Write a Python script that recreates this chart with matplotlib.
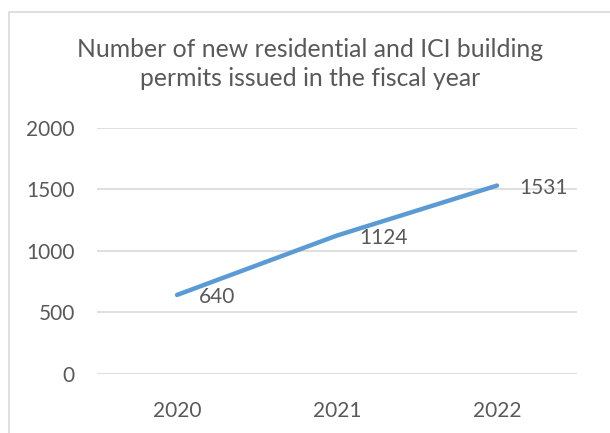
import matplotlib
matplotlib.use("Agg")
from matplotlib import pyplot as plt
from matplotlib.patches import Rectangle

years = ["2020", "2021", "2022"]
permits = [640, 1124, 1531]

title = "Number of new residential and ICI building\npermits issued in the fiscal year"

W, H = 610, 433
text_color = "#595959"
grid_color = "#D9D9D9"
line_color = "#5B9BD5"

plt.rcParams["font.family"] = ["Lato", "DejaVu Sans"]

fig = plt.figure(figsize=(W / 100, H / 100), dpi=100)

# chart frame, only its left and top edges fall inside the image
fig.patches.append(Rectangle((9 / W, -0.1), 1.2, (H - 12) / H + 0.1,
                             transform=fig.transFigure, fill=False,
                             edgecolor=grid_color, linewidth=1.2))

ax = fig.add_axes([97 / W, (H - 373.5) / H, 480 / W, 245.5 / H])
x = list(range(len(years)))
ax.plot(x, permits, color=line_color, linewidth=3.2, solid_capstyle="round")
for xi, v in zip(x, permits):
    ax.annotate(str(v), (xi, v), xytext=(16, -1.5), textcoords="offset points",
                ha="left", va="center", fontsize=15, color=text_color)

ax.set_xlim(-0.5, len(years) - 0.5)
ax.set_ylim(0, 2000)
ax.set_yticks(range(0, 2001, 500))
ax.set_xticks(x)
ax.set_xticklabels(years)
ax.grid(axis="y", color=grid_color, linewidth=1.2)
ax.set_axisbelow(True)
for s in ax.spines.values():
    s.set_visible(False)
ax.tick_params(length=0, labelsize=15, labelcolor=text_color)
ax.tick_params(axis="y", pad=16)
ax.tick_params(axis="x", pad=19.5)

fig.text(310 / W, 1 - 64 / H, title, ha="center", va="center",
         fontsize=17.8, color=text_color, linespacing=1.3)

fig.savefig("out.png", dpi=100)
